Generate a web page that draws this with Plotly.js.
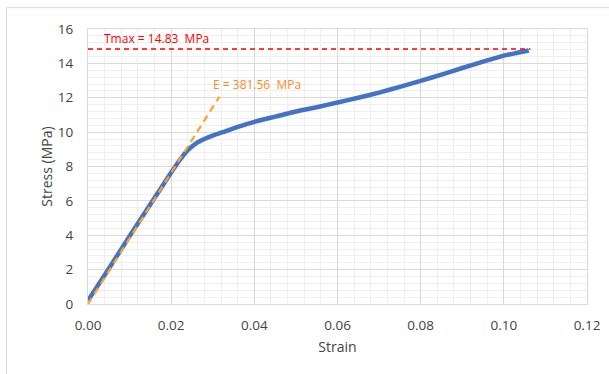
<!DOCTYPE html>
<html><head><meta charset="utf-8">
<script src="https://cdn.plot.ly/plotly-3.0.1.min.js"></script>
<style>html,body{margin:0;padding:0;background:#fff;}#c{width:609px;height:374px;}</style>
</head><body><div id="c"></div>
<script>
const strain = [0, 0.005, 0.01, 0.015, 0.02, 0.022, 0.024, 0.026, 0.028, 0.030, 0.033, 0.036, 0.04, 0.045, 0.05, 0.055, 0.06, 0.065, 0.07, 0.075, 0.08, 0.085, 0.09, 0.095, 0.10, 0.103, 0.106];
const stress = [0.2, 2.05, 3.95, 5.8, 7.65, 8.35, 8.95, 9.35, 9.6, 9.8, 10.05, 10.3, 10.6, 10.9, 11.2, 11.45, 11.72, 12.0, 12.3, 12.63, 12.98, 13.35, 13.73, 14.1, 14.45, 14.6, 14.75];
const modulusX = [0, 0.0316];
const modulusY = [0, 12.06];
const tmaxX = [0, 0.1064];
const tmaxY = [14.83, 14.83];
const tmaxLabel = "Tmax = 14.83  MPa";
const eLabel = "E = 381.56  MPa";
const xTicks = [0, 0.02, 0.04, 0.06, 0.08, 0.10, 0.12];
const xTickText = ["0.00","0.02","0.04","0.06","0.08","0.10","0.12"];
const yTicks = [0, 2, 4, 6, 8, 10, 12, 14, 16];

const traces = [
  {x: strain, y: stress, mode: 'lines', line: {color: '#4472c4', width: 4.5, shape: 'spline', smoothing: 0.5}, hoverinfo: 'skip'},
  {x: modulusX, y: modulusY, mode: 'lines', line: {color: '#ffa21f', width: 2.2, dash: '7px,5px'}, hoverinfo: 'skip'},
  {x: tmaxX, y: tmaxY, mode: 'lines', line: {color: '#ff0000', width: 1.5, dash: '5px,4px'}, hoverinfo: 'skip'}
];

const fam = '"Open Sans", "Noto Sans", sans-serif';
const txt = '#444444';
const layout = {
  width: 609, height: 374,
  margin: {l: 88.4, r: 22.4, t: 29.3, b: 69.7},
  paper_bgcolor: '#ffffff', plot_bgcolor: '#ffffff',
  showlegend: false,
  font: {family: fam, color: txt, size: 12},
  xaxis: {
    range: [0, 0.12], tickvals: xTicks, ticktext: xTickText,
    showgrid: true, gridcolor: '#d9d9d9', gridwidth: 1,
    minor: {dtick: 0.004, showgrid: true, gridcolor: '#efefef', gridwidth: 1},
    showline: true, linecolor: '#d9d9d9', mirror: true, zeroline: false,
    ticks: '', ticklabelstandoff: 9,
    tickfont: {size: 13.5, color: txt},
    title: {text: 'Strain', font: {size: 14, color: txt}, standoff: 8}
  },
  yaxis: {
    range: [0, 16], tickvals: yTicks,
    showgrid: true, gridcolor: '#d9d9d9', gridwidth: 1,
    minor: {dtick: 0.4, showgrid: true, gridcolor: '#efefef', gridwidth: 1},
    showline: true, linecolor: '#d9d9d9', mirror: true, zeroline: false,
    ticks: '', ticklabelstandoff: 11,
    tickfont: {size: 13.5, color: txt},
    title: {text: 'Stress (MPa)', font: {size: 14, color: txt}, standoff: 1}
  },
  annotations: [
    {x: 0.0033, y: 14.83, xref: 'x', yref: 'y', text: tmaxLabel, showarrow: false,
     xanchor: 'left', yanchor: 'bottom', yshift: 0, font: {color: '#ff0000', size: 12}},
    {x: 0.0296, y: 12.15, xref: 'x', yref: 'y', text: eLabel, showarrow: false,
     xanchor: 'left', yanchor: 'bottom', font: {color: '#ff8a1f', size: 12}}
  ],
  shapes: [
    {type: 'rect', xref: 'paper', yref: 'paper', x0: -0.1634, x1: 1.2, y0: -0.4, y1: 1.0775,
     line: {color: '#d9d9d9', width: 1}, layer: 'below'}
  ]
};
Plotly.newPlot('c', traces, layout, {displayModeBar: false, staticPlot: true});
</script>
</body></html>
